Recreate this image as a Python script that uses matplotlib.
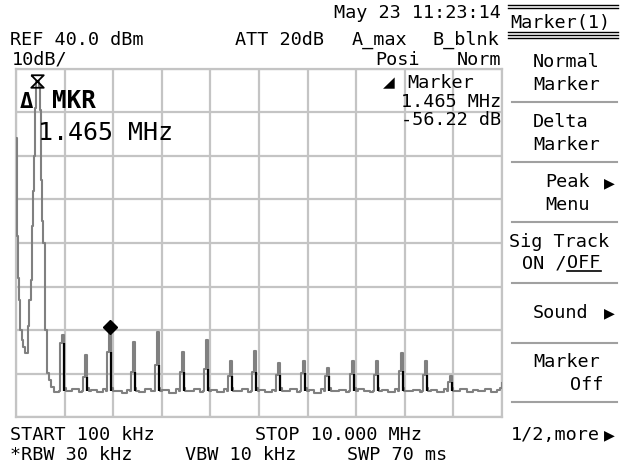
import matplotlib
matplotlib.use('Agg')
import matplotlib.pyplot as plt
from matplotlib.lines import Line2D
from matplotlib.path import Path
import numpy as np

W, H = 620, 465

# sweep settings (MHz, dBm)
start_mhz, stop_mhz = 0.1, 10.0
ref_dbm, bottom_dbm = 40.0, -40.0

# main lobe at the low end of the sweep
lobe_mhz = [0.10, 0.13, 0.15, 0.17, 0.19, 0.22, 0.25, 0.28, 0.32, 0.35, 0.37,
            0.40, 0.42, 0.44, 0.46, 0.48, 0.50, 0.56, 0.58, 0.60, 0.62, 0.66,
            0.70, 0.74, 0.78, 0.82, 0.87, 0.95]
lobe_dbm = [24.1, 1.5, -8.0, -13.0, -20.0, -22.3, -24.0, -25.3, -25.3, -19.0,
            -13.0, -8.5, 4.0, 12.0, 20.0, 31.0, 37.2, 36.0, 30.6, 14.5, 5.0,
            0.0, -20.0, -29.9, -31.5, -33.1, -34.3, -34.3]

# harmonics
peak_mhz = [1.06, 1.53, 2.02, 2.50, 2.99, 3.50, 3.99, 4.48, 4.97, 5.46, 5.97,
            6.46, 6.97, 7.45, 7.96, 8.45, 8.96]
peak_dbm = [-21.2, -25.8, -19.5, -22.8, -20.5, -25.1, -22.3, -27.1, -24.8,
            -27.6, -27.1, -28.7, -27.1, -27.1, -25.3, -27.1, -30.6]
shoulder_dbm = [-23.0, -30.8, -25.1, -29.7, -28.0, -29.7, -29.0, -30.6, -29.7,
                -30.4, -29.9, -30.6, -30.2, -30.4, -29.4, -30.4, -32.0]

# noise floor between harmonics
floor_mhz = [1.15, 1.25, 1.38, 1.62, 1.75, 1.88, 2.12, 2.25, 2.37, 2.60, 2.72,
             2.85, 3.08, 3.22, 3.36, 3.60, 3.72, 3.85, 4.08, 4.20, 4.33, 4.58,
             4.70, 4.83, 5.06, 5.18, 5.32, 5.55, 5.68, 5.82, 6.06, 6.18, 6.32,
             6.55, 6.68, 6.82, 7.06, 7.18, 7.32, 7.55, 7.68, 7.82, 8.05, 8.18,
             8.32, 8.55, 8.68, 8.82, 9.05, 9.15, 9.28, 9.40, 9.52, 9.65, 9.78,
             9.90, 9.96, 10.0]
floor_dbm = [-34.1, -33.6, -34.2, -33.8, -34.3, -33.5, -34.0, -34.4, -33.7,
             -34.2, -33.6, -34.1, -33.9, -34.4, -33.6, -34.0, -33.5, -34.3,
             -33.8, -34.2, -33.6, -34.1, -33.5, -34.2, -33.7, -34.3, -33.9,
             -34.0, -33.5, -34.2, -33.8, -34.4, -33.6, -34.1, -33.7, -34.3,
             -33.6, -34.0, -34.3, -33.8, -34.2, -33.6, -34.1, -33.7, -34.3,
             -33.9, -34.2, -33.6, -34.1, -33.6, -34.3, -33.8, -34.0, -33.5,
             -34.2, -33.9, -33.4, -32.2]

ref_mkr_mhz, ref_mkr_dbm = 0.53, 37.2
delta_mkr_mhz, delta_mkr_dbm = 2.01, -19.3

# build trace
pts = list(zip(lobe_mhz, lobe_dbm)) + list(zip(floor_mhz, floor_dbm))
for f, top, sh in zip(peak_mhz, peak_dbm, shoulder_dbm):
    pts += [(f - 0.08, -34.0), (f - 0.065, sh), (f - 0.035, sh), (f - 0.025, top),
            (f, top), (f + 0.015, -33.3), (f + 0.05, -34.0)]
pts.sort()
trace_x = [p[0] for p in pts]
trace_y = [p[1] for p in pts]

fig = plt.figure(figsize=(W / 100, H / 100), dpi=100)
ax = fig.add_axes([16 / W, 48 / H, 486 / W, 348 / H])
ax.set_xlim(start_mhz, stop_mhz)
ax.set_ylim(bottom_dbm, ref_dbm)
ax.set_xticks(np.linspace(start_mhz, stop_mhz, 11))
ax.set_yticks(np.arange(bottom_dbm, ref_dbm + 1, 10))
ax.tick_params(length=0, labelbottom=False, labelleft=False)
ax.grid(True, color='#c4c4c4', lw=1.6)
for s in ax.spines.values():
    s.set_color('#c4c4c4')
    s.set_linewidth(1.6)

ax.plot(trace_x, trace_y, color='#808080', lw=1.5, drawstyle='steps-post',
        zorder=3)
ax.vlines([f + 0.015 for f in peak_mhz], -34.0, shoulder_dbm, color='black',
          lw=1.6, zorder=4)

hourglass = Path([(-1, 1), (1, 1), (-1, -1), (1, -1), (-1, 1)])
ax.plot([ref_mkr_mhz], [ref_mkr_dbm], marker=hourglass, ms=9, mfc='none',
        mec='black', mew=1.3, zorder=5)
ax.plot([delta_mkr_mhz], [delta_mkr_dbm], marker='D', ms=7, color='black',
        zorder=5)

mono = ['DejaVu Sans Mono', 'DejaVu Sans']


def put(x, y, s, size=13.3, **kw):
    fig.text(x / W, 1 - y / H, s, fontsize=size, family=mono, va='baseline',
             **kw)


def hline(x0, x1, y, color, lw=1.5):
    fig.add_artist(Line2D([x0 / W, x1 / W], [1 - y / H, 1 - y / H],
                          transform=fig.transFigure, color=color, lw=lw))


# header
put(501, 18, 'May 23 11:23:14', ha='right')
put(10, 45, 'REF 40.0 dBm')
put(235, 45, 'ATT 20dB')
put(352, 45, 'A_max')
put(433, 45, 'B_blnk')
put(12, 65, '10dB/')
put(375, 65, 'Posi')
put(457, 65, 'Norm')

# marker readout
put(383, 88, '◢', size=14)
put(407, 88, 'Marker')
put(501, 107, '1.465 MHz', ha='right')
put(501, 125, '-56.22 dB', ha='right')
put(20, 108, 'Δ', size=16, weight='bold')
put(52, 108, 'MKR', size=17.5, weight='bold')
put(38, 140, '1.465 MHz', size=18)

# footer
put(10, 440, 'START 100 kHz')
put(255, 440, 'STOP 10.000 MHz')
put(10, 460, '*RBW 30 kHz')
put(185, 460, 'VBW 10 kHz')
put(347, 460, 'SWP 70 ms')

# soft key panel
for y in [5, 8, 32, 35, 38]:
    hline(508, 618, y, 'black', lw=1.0)
put(510, 28, 'Marker(1)')
for y in [102, 162, 222, 283, 343, 402]:
    hline(512, 617, y, '#a0a0a0')
put(533, 67, 'Normal')
put(533, 90, 'Marker')
put(533, 127, 'Delta')
put(533, 150, 'Marker')
put(545, 187, 'Peak')
put(604, 188, '▶', size=13)
put(545, 210, 'Menu')
put(509, 247, 'Sig Track')
put(522, 268, 'ON /')
put(567, 268, 'OFF')
hline(567, 601, 271, 'black', lw=1.2)
put(533, 318, 'Sound')
put(604, 318, '▶', size=13)
put(533, 367, 'Marker')
put(603, 390, 'Off', ha='right')
put(511, 440, '1/2,more')
put(604, 440, '▶', size=13)

fig.savefig('out.png', dpi=100)
